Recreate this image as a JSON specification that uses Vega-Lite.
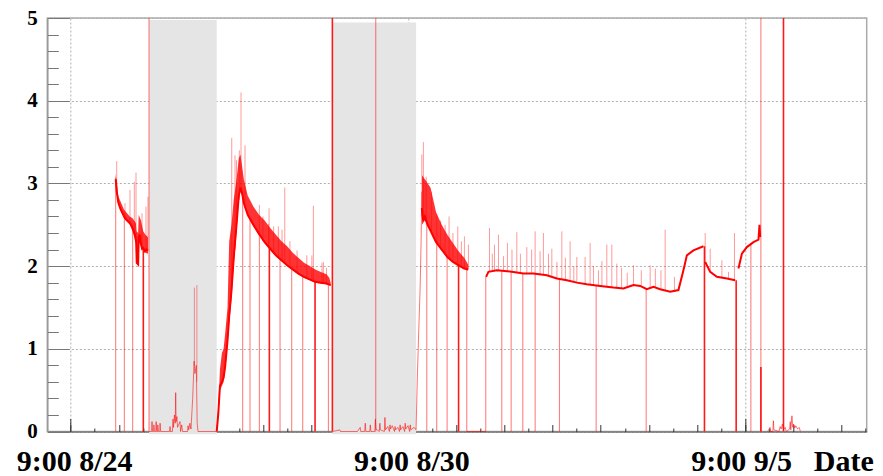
{
  "$schema": "https://vega.github.io/schema/vega-lite/v6.json",
  "width": 819.4,
  "height": 413.5,
  "autosize": "none",
  "padding": {"left": 47.3, "top": 18, "right": 16.3, "bottom": 44.5},
  "background": "white",
  "config": {
    "view": {"stroke": "#aaaaaa", "strokeWidth": 1.5},
    "axis": {"zindex": 1}
  },
  "resolve": {"axis": {"x": "independent", "y": "independent"}},
  "datasets": {
    "shade": [
      {"d0": 1.393, "d1": 2.598, "v0": -0.034, "v1": 4.976},
      {"d0": 4.655, "d1": 6.144, "v0": -0.034, "v1": 4.945}
    ],
    "band": [
      {"seg": "A", "d": 0.80, "lo": 3.0, "hi": 3.12},
      {"seg": "A", "d": 0.85, "lo": 2.74, "hi": 2.84},
      {"seg": "A", "d": 0.95, "lo": 2.58, "hi": 2.68},
      {"seg": "A", "d": 1.05, "lo": 2.50, "hi": 2.60},
      {"seg": "A", "d": 1.10, "lo": 2.42, "hi": 2.58},
      {"seg": "A", "d": 1.16, "lo": 2.28, "hi": 2.52},
      {"seg": "A", "d": 1.17, "lo": 2.04, "hi": 2.42},
      {"seg": "A", "d": 1.20, "lo": 2.02, "hi": 2.40},
      {"seg": "A", "d": 1.21, "lo": 2.30, "hi": 2.62},
      {"seg": "A", "d": 1.25, "lo": 2.24, "hi": 2.55},
      {"seg": "A", "d": 1.29, "lo": 2.18, "hi": 2.42},
      {"seg": "A", "d": 1.33, "lo": 2.16, "hi": 2.38},
      {"seg": "A", "d": 1.375, "lo": 2.15, "hi": 2.35},
      {"seg": "B", "d": 2.598, "lo": 0, "hi": 0.05},
      {"seg": "B", "d": 2.626, "lo": 0.2, "hi": 0.3},
      {"seg": "B", "d": 2.655, "lo": 0.5, "hi": 0.75},
      {"seg": "B", "d": 2.69, "lo": 0.55, "hi": 0.95},
      {"seg": "B", "d": 2.72, "lo": 0.6, "hi": 1.0},
      {"seg": "B", "d": 2.75, "lo": 0.75, "hi": 1.2},
      {"seg": "B", "d": 2.79, "lo": 1.05, "hi": 1.5},
      {"seg": "B", "d": 2.82, "lo": 1.3, "hi": 2.3},
      {"seg": "B", "d": 2.86, "lo": 1.6, "hi": 2.5},
      {"seg": "B", "d": 2.90, "lo": 2.0, "hi": 2.8},
      {"seg": "B", "d": 2.95, "lo": 2.4, "hi": 3.05},
      {"seg": "B", "d": 2.99, "lo": 2.8, "hi": 3.3},
      {"seg": "B", "d": 3.02, "lo": 2.9, "hi": 3.35},
      {"seg": "B", "d": 3.05, "lo": 2.85, "hi": 3.2},
      {"seg": "B", "d": 3.08, "lo": 2.75, "hi": 3.05},
      {"seg": "B", "d": 3.15, "lo": 2.6, "hi": 2.85},
      {"seg": "B", "d": 3.25, "lo": 2.48, "hi": 2.72},
      {"seg": "B", "d": 3.35, "lo": 2.38, "hi": 2.62},
      {"seg": "B", "d": 3.45, "lo": 2.28, "hi": 2.55},
      {"seg": "B", "d": 3.55, "lo": 2.2, "hi": 2.46},
      {"seg": "B", "d": 3.65, "lo": 2.12, "hi": 2.38},
      {"seg": "B", "d": 3.75, "lo": 2.06, "hi": 2.3},
      {"seg": "B", "d": 3.85, "lo": 2.0, "hi": 2.24},
      {"seg": "B", "d": 3.95, "lo": 1.95, "hi": 2.16},
      {"seg": "B", "d": 4.05, "lo": 1.9, "hi": 2.1},
      {"seg": "B", "d": 4.15, "lo": 1.86, "hi": 2.04},
      {"seg": "B", "d": 4.25, "lo": 1.83, "hi": 2.0},
      {"seg": "B", "d": 4.35, "lo": 1.8, "hi": 1.96},
      {"seg": "B", "d": 4.45, "lo": 1.79, "hi": 1.93},
      {"seg": "B", "d": 4.55, "lo": 1.78, "hi": 1.9},
      {"seg": "B", "d": 4.60, "lo": 1.77, "hi": 1.86},
      {"seg": "B", "d": 4.625, "lo": 1.76, "hi": 1.8},
      {"seg": "C", "d": 6.25, "lo": 2.5, "hi": 3.1},
      {"seg": "C", "d": 6.30, "lo": 2.55, "hi": 3.05},
      {"seg": "C", "d": 6.40, "lo": 2.42, "hi": 2.95},
      {"seg": "C", "d": 6.50, "lo": 2.28, "hi": 2.65},
      {"seg": "C", "d": 6.60, "lo": 2.2, "hi": 2.5},
      {"seg": "C", "d": 6.70, "lo": 2.1, "hi": 2.38},
      {"seg": "C", "d": 6.80, "lo": 2.05, "hi": 2.28},
      {"seg": "C", "d": 6.90, "lo": 2.0, "hi": 2.18},
      {"seg": "C", "d": 7.00, "lo": 1.97, "hi": 2.1},
      {"seg": "C", "d": 7.07, "lo": 1.95, "hi": 2.02}
    ],
    "trend": [
      {"seg": "A", "d": 0.801, "v": 3.05},
      {"seg": "A", "d": 0.819, "v": 2.90},
      {"seg": "A", "d": 0.847, "v": 2.77},
      {"seg": "A", "d": 0.88, "v": 2.70},
      {"seg": "A", "d": 0.907, "v": 2.66},
      {"seg": "A", "d": 0.95, "v": 2.60},
      {"seg": "A", "d": 0.99, "v": 2.56},
      {"seg": "A", "d": 1.055, "v": 2.52},
      {"seg": "A", "d": 1.09, "v": 2.48},
      {"seg": "A", "d": 1.114, "v": 2.44},
      {"seg": "A", "d": 1.15, "v": 2.36},
      {"seg": "A", "d": 1.165, "v": 2.28},
      {"seg": "A", "d": 1.175, "v": 2.04},
      {"seg": "A", "d": 1.20, "v": 2.02},
      {"seg": "A", "d": 1.21, "v": 2.34},
      {"seg": "A", "d": 1.23, "v": 2.38},
      {"seg": "A", "d": 1.25, "v": 2.27},
      {"seg": "A", "d": 1.27, "v": 2.21},
      {"seg": "A", "d": 1.29, "v": 2.22},
      {"seg": "A", "d": 1.32, "v": 2.18},
      {"seg": "A", "d": 1.35, "v": 2.20},
      {"seg": "A", "d": 1.375, "v": 2.19},
      {"seg": "B", "d": 2.598, "v": 0.0},
      {"seg": "B", "d": 2.626, "v": 0.22},
      {"seg": "B", "d": 2.655, "v": 0.55},
      {"seg": "B", "d": 2.69, "v": 0.6},
      {"seg": "B", "d": 2.72, "v": 0.65},
      {"seg": "B", "d": 2.75, "v": 0.8},
      {"seg": "B", "d": 2.79, "v": 1.1},
      {"seg": "B", "d": 2.82, "v": 1.4},
      {"seg": "B", "d": 2.86, "v": 1.7},
      {"seg": "B", "d": 2.90, "v": 2.1},
      {"seg": "B", "d": 2.95, "v": 2.5},
      {"seg": "B", "d": 2.99, "v": 2.85},
      {"seg": "B", "d": 3.02, "v": 2.95},
      {"seg": "B", "d": 3.05, "v": 2.88},
      {"seg": "B", "d": 3.08, "v": 2.76},
      {"seg": "B", "d": 3.15, "v": 2.62},
      {"seg": "B", "d": 3.25, "v": 2.50},
      {"seg": "B", "d": 3.35, "v": 2.39},
      {"seg": "B", "d": 3.45, "v": 2.29},
      {"seg": "B", "d": 3.55, "v": 2.21},
      {"seg": "B", "d": 3.65, "v": 2.13},
      {"seg": "B", "d": 3.75, "v": 2.07},
      {"seg": "B", "d": 3.85, "v": 2.01},
      {"seg": "B", "d": 3.95, "v": 1.96},
      {"seg": "B", "d": 4.05, "v": 1.91},
      {"seg": "B", "d": 4.15, "v": 1.87},
      {"seg": "B", "d": 4.25, "v": 1.84},
      {"seg": "B", "d": 4.35, "v": 1.81},
      {"seg": "B", "d": 4.45, "v": 1.80},
      {"seg": "B", "d": 4.55, "v": 1.79},
      {"seg": "B", "d": 4.625, "v": 1.77},
      {"seg": "C", "d": 6.246, "v": 2.7},
      {"seg": "C", "d": 6.27, "v": 2.55},
      {"seg": "C", "d": 6.30, "v": 2.6},
      {"seg": "C", "d": 6.35, "v": 2.5},
      {"seg": "C", "d": 6.40, "v": 2.43},
      {"seg": "C", "d": 6.50, "v": 2.29},
      {"seg": "C", "d": 6.60, "v": 2.20},
      {"seg": "C", "d": 6.70, "v": 2.11},
      {"seg": "C", "d": 6.80, "v": 2.05},
      {"seg": "C", "d": 6.90, "v": 2.01},
      {"seg": "C", "d": 7.00, "v": 1.97},
      {"seg": "C", "d": 7.07, "v": 1.96},
      {"seg": "D1", "d": 7.390, "v": 1.87},
      {"seg": "D1", "d": 7.431, "v": 1.93},
      {"seg": "D1", "d": 7.580, "v": 1.95},
      {"seg": "D1", "d": 7.875, "v": 1.93},
      {"seg": "D1", "d": 8.053, "v": 1.91},
      {"seg": "D1", "d": 8.231, "v": 1.91},
      {"seg": "D1", "d": 8.470, "v": 1.89},
      {"seg": "D1", "d": 8.648, "v": 1.85},
      {"seg": "D1", "d": 8.826, "v": 1.83},
      {"seg": "D1", "d": 9.004, "v": 1.80},
      {"seg": "D1", "d": 9.181, "v": 1.78},
      {"seg": "D1", "d": 9.418, "v": 1.76},
      {"seg": "D1", "d": 9.655, "v": 1.74},
      {"seg": "D1", "d": 9.833, "v": 1.73},
      {"seg": "D1", "d": 10.011, "v": 1.77},
      {"seg": "D1", "d": 10.130, "v": 1.76},
      {"seg": "D1", "d": 10.249, "v": 1.72},
      {"seg": "D1", "d": 10.367, "v": 1.75},
      {"seg": "D1", "d": 10.486, "v": 1.72},
      {"seg": "D1", "d": 10.664, "v": 1.69},
      {"seg": "D1", "d": 10.811, "v": 1.71},
      {"seg": "D1", "d": 10.900, "v": 1.95},
      {"seg": "D1", "d": 10.961, "v": 2.13},
      {"seg": "D1", "d": 11.078, "v": 2.19},
      {"seg": "D1", "d": 11.256, "v": 2.24},
      {"seg": "D2", "d": 11.287, "v": 2.05},
      {"seg": "D2", "d": 11.376, "v": 1.93},
      {"seg": "D2", "d": 11.495, "v": 1.87},
      {"seg": "D2", "d": 11.673, "v": 1.85},
      {"seg": "D2", "d": 11.820, "v": 1.83},
      {"seg": "D3", "d": 11.879, "v": 1.97},
      {"seg": "D3", "d": 11.940, "v": 2.15},
      {"seg": "D3", "d": 12.028, "v": 2.23},
      {"seg": "D3", "d": 12.146, "v": 2.29},
      {"seg": "D3", "d": 12.235, "v": 2.32},
      {"seg": "D3", "d": 12.253, "v": 2.50},
      {"seg": "D3", "d": 12.265, "v": 2.35}
    ],
    "faint": [
      {"seg": "Z1", "d": 1.393, "v": 0},
      {"seg": "Z1", "d": 1.44, "v": 0},
      {"seg": "Z1", "d": 1.447, "v": 0.12},
      {"seg": "Z1", "d": 1.455, "v": 0},
      {"seg": "Z1", "d": 1.475, "v": 0},
      {"seg": "Z1", "d": 1.48, "v": 0.08},
      {"seg": "Z1", "d": 1.49, "v": 0},
      {"seg": "Z1", "d": 1.515, "v": 0},
      {"seg": "Z1", "d": 1.52, "v": 0.12},
      {"seg": "Z1", "d": 1.53, "v": 0},
      {"seg": "Z1", "d": 1.545, "v": 0},
      {"seg": "Z1", "d": 1.55, "v": 0.08},
      {"seg": "Z1", "d": 1.56, "v": 0},
      {"seg": "Z1", "d": 1.585, "v": 0},
      {"seg": "Z1", "d": 1.59, "v": 0.1},
      {"seg": "Z1", "d": 1.60, "v": 0},
      {"seg": "Z1", "d": 1.76, "v": 0},
      {"seg": "Z1", "d": 1.767, "v": 0.06},
      {"seg": "Z1", "d": 1.775, "v": 0},
      {"seg": "Z1", "d": 1.81, "v": 0},
      {"seg": "Z1", "d": 1.82, "v": 0.15},
      {"seg": "Z1", "d": 1.83, "v": 0.05},
      {"seg": "Z1", "d": 1.845, "v": 0.2},
      {"seg": "Z1", "d": 1.86, "v": 0.1},
      {"seg": "Z1", "d": 1.868, "v": 0.47},
      {"seg": "Z1", "d": 1.875, "v": 0.12},
      {"seg": "Z1", "d": 1.89, "v": 0.18},
      {"seg": "Z1", "d": 1.90, "v": 0.05},
      {"seg": "Z1", "d": 1.945, "v": 0.12},
      {"seg": "Z1", "d": 1.955, "v": 0},
      {"seg": "Z1", "d": 1.975, "v": 0.08},
      {"seg": "Z1", "d": 1.99, "v": 0},
      {"seg": "Z1", "d": 2.08, "v": 0},
      {"seg": "Z1", "d": 2.087, "v": 0.07},
      {"seg": "Z1", "d": 2.10, "v": 0.02},
      {"seg": "Z1", "d": 2.12, "v": 0.1},
      {"seg": "Z1", "d": 2.14, "v": 0.03},
      {"seg": "Z1", "d": 2.17, "v": 0.4},
      {"seg": "Z1", "d": 2.195, "v": 0.85},
      {"seg": "Z1", "d": 2.21, "v": 0.7},
      {"seg": "Z1", "d": 2.235, "v": 0.8},
      {"seg": "Z1", "d": 2.25, "v": 0.1},
      {"seg": "Z1", "d": 2.265, "v": 0},
      {"seg": "Z1", "d": 2.598, "v": 0},
      {"seg": "Z2", "d": 4.66, "v": 0},
      {"seg": "Z2", "d": 4.79, "v": 0.02},
      {"seg": "Z2", "d": 4.80, "v": 0},
      {"seg": "Z2", "d": 5.10, "v": 0},
      {"seg": "Z2", "d": 5.15, "v": 0.05},
      {"seg": "Z2", "d": 5.16, "v": 0},
      {"seg": "Z2", "d": 5.23, "v": 0},
      {"seg": "Z2", "d": 5.24, "v": 0.1},
      {"seg": "Z2", "d": 5.25, "v": 0},
      {"seg": "Z2", "d": 5.32, "v": 0},
      {"seg": "Z2", "d": 5.33, "v": 0.08},
      {"seg": "Z2", "d": 5.34, "v": 0},
      {"seg": "Z2", "d": 5.41, "v": 0},
      {"seg": "Z2", "d": 5.42, "v": 0.15},
      {"seg": "Z2", "d": 5.43, "v": 0.03},
      {"seg": "Z2", "d": 5.49, "v": 0},
      {"seg": "Z2", "d": 5.50, "v": 0.1},
      {"seg": "Z2", "d": 5.51, "v": 0.02},
      {"seg": "Z2", "d": 5.58, "v": 0},
      {"seg": "Z2", "d": 5.59, "v": 0.17},
      {"seg": "Z2", "d": 5.60, "v": 0.02},
      {"seg": "Z2", "d": 5.64, "v": 0.06},
      {"seg": "Z2", "d": 5.67, "v": 0},
      {"seg": "Z2", "d": 5.68, "v": 0.08},
      {"seg": "Z2", "d": 5.69, "v": 0.03},
      {"seg": "Z2", "d": 5.72, "v": 0.07},
      {"seg": "Z2", "d": 5.76, "v": 0},
      {"seg": "Z2", "d": 5.77, "v": 0.06},
      {"seg": "Z2", "d": 5.78, "v": 0.02},
      {"seg": "Z2", "d": 5.82, "v": 0.05},
      {"seg": "Z2", "d": 5.85, "v": 0},
      {"seg": "Z2", "d": 5.86, "v": 0.08},
      {"seg": "Z2", "d": 5.87, "v": 0.02},
      {"seg": "Z2", "d": 5.91, "v": 0.06},
      {"seg": "Z2", "d": 5.94, "v": 0},
      {"seg": "Z2", "d": 5.95, "v": 0.1},
      {"seg": "Z2", "d": 5.96, "v": 0.03},
      {"seg": "Z2", "d": 6.00, "v": 0.07},
      {"seg": "Z2", "d": 6.03, "v": 0},
      {"seg": "Z2", "d": 6.04, "v": 0.08},
      {"seg": "Z2", "d": 6.05, "v": 0.02},
      {"seg": "Z2", "d": 6.11, "v": 0.05},
      {"seg": "Z2", "d": 6.144, "v": 0.02},
      {"seg": "Z2", "d": 6.167, "v": 0.66},
      {"seg": "Z2", "d": 6.192, "v": 1.23},
      {"seg": "Z2", "d": 6.215, "v": 1.71},
      {"seg": "Z2", "d": 6.233, "v": 2.28},
      {"seg": "Z2", "d": 6.246, "v": 2.9},
      {"seg": "Z3", "d": 7.046, "v": 0},
      {"seg": "Z3", "d": 7.384, "v": 0},
      {"seg": "Z4", "d": 12.40, "v": 0},
      {"seg": "Z4", "d": 12.44, "v": 0.05},
      {"seg": "Z4", "d": 12.45, "v": 0},
      {"seg": "Z4", "d": 12.49, "v": 0},
      {"seg": "Z4", "d": 12.50, "v": 0.13},
      {"seg": "Z4", "d": 12.51, "v": 0.02},
      {"seg": "Z4", "d": 12.60, "v": 0},
      {"seg": "Z4", "d": 12.62, "v": 0.06},
      {"seg": "Z4", "d": 12.64, "v": 0.03},
      {"seg": "Z4", "d": 12.66, "v": 0.09},
      {"seg": "Z4", "d": 12.68, "v": 0.02},
      {"seg": "Z4", "d": 12.71, "v": 0.05},
      {"seg": "Z4", "d": 12.73, "v": 0},
      {"seg": "Z4", "d": 12.79, "v": 0.03},
      {"seg": "Z4", "d": 12.80, "v": 0.12},
      {"seg": "Z4", "d": 12.81, "v": 0.02},
      {"seg": "Z4", "d": 12.83, "v": 0.19},
      {"seg": "Z4", "d": 12.845, "v": 0.05},
      {"seg": "Z4", "d": 12.86, "v": 0.09},
      {"seg": "Z4", "d": 12.88, "v": 0.04},
      {"seg": "Z4", "d": 12.90, "v": 0.07},
      {"seg": "Z4", "d": 12.93, "v": 0.03},
      {"seg": "Z4", "d": 12.96, "v": 0.05},
      {"seg": "Z4", "d": 12.98, "v": 0}
    ],
    "spikes": [
      {"d": 0.819, "lo": 2.9, "hi": 3.27},
      {"d": 0.966, "lo": 2.58, "hi": 2.76},
      {"d": 1.055, "lo": 2.52, "hi": 2.92},
      {"d": 1.132, "lo": 2.4, "hi": 3.02},
      {"d": 1.162, "lo": 2.3, "hi": 3.13},
      {"d": 1.269, "lo": 2.2, "hi": 2.64},
      {"d": 1.34, "lo": 2.18, "hi": 2.72},
      {"d": 1.375, "lo": 2.18, "hi": 2.84},
      {"d": 2.20, "lo": 0.8, "hi": 1.74},
      {"d": 2.245, "lo": 0.6, "hi": 1.77},
      {"d": 2.865, "lo": 1.8, "hi": 3.55},
      {"d": 2.923, "lo": 2.2, "hi": 3.34},
      {"d": 2.95, "lo": 2.4, "hi": 3.28},
      {"d": 3.0, "lo": 2.8, "hi": 3.40},
      {"d": 3.030, "lo": 2.9, "hi": 4.1},
      {"d": 3.101, "lo": 2.7, "hi": 3.46},
      {"d": 3.356, "lo": 2.38, "hi": 2.74},
      {"d": 3.42, "lo": 2.3, "hi": 2.6},
      {"d": 3.52, "lo": 2.22, "hi": 2.51},
      {"d": 3.529, "lo": 2.22, "hi": 2.70},
      {"d": 3.61, "lo": 2.15, "hi": 2.48},
      {"d": 3.694, "lo": 2.1, "hi": 2.48},
      {"d": 3.76, "lo": 2.06, "hi": 2.44},
      {"d": 3.808, "lo": 2.03, "hi": 2.95},
      {"d": 3.9, "lo": 1.98, "hi": 2.3},
      {"d": 4.027, "lo": 1.92, "hi": 2.19},
      {"d": 4.2, "lo": 1.85, "hi": 2.13},
      {"d": 4.29, "lo": 1.83, "hi": 2.13},
      {"d": 4.317, "lo": 1.81, "hi": 2.73},
      {"d": 4.47, "lo": 1.79, "hi": 2.04},
      {"d": 4.495, "lo": 1.79, "hi": 2.05},
      {"d": 4.55, "lo": 1.78, "hi": 1.98},
      {"d": 6.246, "lo": 2.6, "hi": 3.35},
      {"d": 6.274, "lo": 2.6, "hi": 3.5},
      {"d": 6.324, "lo": 2.5, "hi": 3.08},
      {"d": 6.42, "lo": 2.4, "hi": 2.9},
      {"d": 6.512, "lo": 2.28, "hi": 2.62},
      {"d": 6.58, "lo": 2.2, "hi": 2.55},
      {"d": 6.66, "lo": 2.15, "hi": 2.5},
      {"d": 6.731, "lo": 2.1, "hi": 2.6},
      {"d": 6.8, "lo": 2.05, "hi": 2.4},
      {"d": 6.886, "lo": 2.01, "hi": 2.48},
      {"d": 6.95, "lo": 1.99, "hi": 2.3},
      {"d": 7.004, "lo": 1.97, "hi": 2.36},
      {"d": 7.075, "lo": 1.96, "hi": 2.26},
      {"d": 7.45, "lo": 1.94, "hi": 2.46},
      {"d": 7.5, "lo": 1.95, "hi": 2.15},
      {"d": 7.539, "lo": 1.95, "hi": 2.26},
      {"d": 7.61, "lo": 1.95, "hi": 2.38},
      {"d": 7.7, "lo": 1.94, "hi": 2.12},
      {"d": 7.769, "lo": 1.94, "hi": 2.28},
      {"d": 7.85, "lo": 1.93, "hi": 2.2},
      {"d": 7.936, "lo": 1.93, "hi": 2.41},
      {"d": 8.0, "lo": 1.92, "hi": 2.15},
      {"d": 8.114, "lo": 1.91, "hi": 2.23},
      {"d": 8.2, "lo": 1.91, "hi": 2.2},
      {"d": 8.262, "lo": 1.91, "hi": 2.42},
      {"d": 8.35, "lo": 1.9, "hi": 2.18},
      {"d": 8.409, "lo": 1.90, "hi": 2.40},
      {"d": 8.5, "lo": 1.89, "hi": 2.15},
      {"d": 8.559, "lo": 1.87, "hi": 2.21},
      {"d": 8.65, "lo": 1.85, "hi": 2.05},
      {"d": 8.737, "lo": 1.84, "hi": 2.42},
      {"d": 8.8, "lo": 1.83, "hi": 2.1},
      {"d": 8.884, "lo": 1.82, "hi": 2.30},
      {"d": 8.95, "lo": 1.81, "hi": 2.0},
      {"d": 9.004, "lo": 1.80, "hi": 2.11},
      {"d": 9.151, "lo": 1.78, "hi": 2.11},
      {"d": 9.240, "lo": 1.78, "hi": 2.28},
      {"d": 9.3, "lo": 1.77, "hi": 2.0},
      {"d": 9.388, "lo": 1.76, "hi": 1.95},
      {"d": 9.45, "lo": 1.76, "hi": 2.06},
      {"d": 9.537, "lo": 1.75, "hi": 2.26},
      {"d": 9.626, "lo": 1.74, "hi": 2.26},
      {"d": 9.715, "lo": 1.74, "hi": 2.03},
      {"d": 9.8, "lo": 1.73, "hi": 1.98},
      {"d": 9.9, "lo": 1.74, "hi": 1.92},
      {"d": 10.011, "lo": 1.77, "hi": 2.01},
      {"d": 10.15, "lo": 1.76, "hi": 1.95},
      {"d": 10.308, "lo": 1.74, "hi": 2.01},
      {"d": 10.4, "lo": 1.74, "hi": 1.97},
      {"d": 10.5, "lo": 1.72, "hi": 1.95},
      {"d": 10.575, "lo": 1.70, "hi": 2.44},
      {"d": 10.74, "lo": 1.70, "hi": 1.87},
      {"d": 11.287, "lo": 2.05, "hi": 2.40},
      {"d": 11.376, "lo": 1.93, "hi": 2.21},
      {"d": 11.584, "lo": 1.86, "hi": 2.07},
      {"d": 11.702, "lo": 1.85, "hi": 1.93},
      {"d": 11.808, "lo": 1.83, "hi": 2.40}
    ],
    "drops": [
      {"d": 0.801, "top": 3.07, "base": 0},
      {"d": 0.954, "top": 2.6, "base": 0},
      {"d": 1.103, "top": 2.46, "base": 0},
      {"d": 1.393, "top": 5, "base": 0},
      {"d": 3.060, "top": 2.85, "base": 0},
      {"d": 3.190, "top": 2.56, "base": 0},
      {"d": 3.356, "top": 2.4, "base": 0},
      {"d": 3.724, "top": 2.08, "base": 0},
      {"d": 3.932, "top": 1.96, "base": 0},
      {"d": 4.128, "top": 1.88, "base": 0},
      {"d": 4.584, "top": 1.78, "base": 0},
      {"d": 5.427, "top": 5, "base": 0},
      {"d": 6.335, "top": 2.5, "base": 0},
      {"d": 6.512, "top": 2.3, "base": 0},
      {"d": 6.696, "top": 2.12, "base": 0},
      {"d": 7.046, "top": 1.97, "base": 0},
      {"d": 7.384, "top": 1.87, "base": 0},
      {"d": 7.669, "top": 1.95, "base": 0},
      {"d": 7.835, "top": 1.94, "base": 0},
      {"d": 8.043, "top": 1.91, "base": 0},
      {"d": 8.262, "top": 1.91, "base": 0},
      {"d": 8.694, "top": 1.85, "base": 0},
      {"d": 9.347, "top": 1.77, "base": 0},
      {"d": 10.237, "top": 1.73, "base": 0},
      {"d": 12.1, "top": 2.28, "base": 0},
      {"d": 12.278, "top": 5, "base": 0}
    ],
    "dropsBold": [
      {"d": 1.292, "top": 2.2, "base": 0},
      {"d": 3.534, "top": 2.22, "base": 0},
      {"d": 4.347, "top": 1.82, "base": 0},
      {"d": 4.655, "top": 5, "base": 0},
      {"d": 6.9, "top": 2.02, "base": 0},
      {"d": 11.274, "top": 2.24, "base": 0},
      {"d": 11.838, "top": 1.83, "base": 0},
      {"d": 12.278, "top": 0.78, "base": 0},
      {"d": 12.68, "top": 5, "base": 0}
    ]
  },
  "layer": [
    {
      "data": {"name": "shade"},
      "mark": {"type": "rect", "color": "#e5e5e5"},
      "encoding": {
        "x": {
          "field": "d0", "type": "quantitative",
          "scale": {"domain": [-0.416, 14.16], "nice": false, "zero": false},
          "axis": {
            "orient": "bottom", "values": [0, 6, 12],
            "tickSize": -13, "tickColor": "#333333", "tickWidth": 1,
            "domainColor": "#777777", "domainWidth": 1.5,
            "grid": true, "gridDash": [2, 2], "gridColor": "#b0b0b0", "gridWidth": 1,
            "labelExpr": "datum.value == 0 ? '9:00 8/24' : datum.value == 6 ? '9:00 8/30' : '9:00 9/5'",
            "labelAlign": "left", "labelOffset": -54.5, "labelBaseline": "alphabetic",
            "labelPadding": 51.5, "labelFont": "Liberation Serif", "labelFontWeight": "bold",
            "labelFontSize": 30, "labelColor": "#000000", "labelFlush": false, "labelOverlap": false,
            "title": "Date", "titleX": 766, "titleY": 38.5, "titleAlign": "left",
            "titleBaseline": "alphabetic", "titleFont": "Liberation Serif",
            "titleFontWeight": "bold", "titleFontSize": 30, "titleColor": "#000000"
          }
        },
        "x2": {"field": "d1"},
        "y": {
          "field": "v0", "type": "quantitative",
          "scale": {"domain": [0, 5], "nice": false, "zero": false},
          "axis": {
            "orient": "left", "values": [0, 1, 2, 3, 4, 5], "format": "d",
            "tickSize": -22, "tickColor": "#777777", "tickWidth": 1,
            "domainColor": "#999999", "domainWidth": 1.5,
            "grid": true, "gridDash": [2, 2], "gridColor": "#b0b0b0", "gridWidth": 1,
            "labelPadding": 32, "labelFont": "Liberation Serif", "labelFontWeight": "bold",
            "labelFontSize": 21, "labelColor": "#000000", "labelAlign": "right",
            "labelBaseline": "middle", "labelFlush": false, "labelOverlap": false,
            "title": null
          }
        },
        "y2": {"field": "v1"}
      }
    },
    {
      "data": {"name": "band"},
      "mark": {"type": "area", "color": "#ff0000", "opacity": 0.8},
      "encoding": {
        "x": {
          "field": "d", "type": "quantitative",
          "scale": {"domain": [-0.416, 14.16], "nice": false, "zero": false},
          "axis": {
            "orient": "bottom",
            "values": [0, 0.857143, 1.714286, 2.571429, 3.428571, 4.285714, 5.142857, 6, 6.857143, 7.714286, 8.571429, 9.428571, 10.285714, 11.142857, 12, 12.857143, 13.714286],
            "tickSize": -7, "tickColor": "#333333", "tickWidth": 1,
            "labels": false, "grid": false, "domain": false, "title": null
          }
        },
        "y": {
          "field": "lo", "type": "quantitative",
          "scale": {"domain": [0, 5], "nice": false, "zero": false},
          "axis": {
            "orient": "left",
            "values": [0.2, 0.4, 0.6, 0.8, 1.2, 1.4, 1.6, 1.8, 2.2, 2.4, 2.6, 2.8, 3.2, 3.4, 3.6, 3.8, 4.2, 4.4, 4.6, 4.8],
            "tickSize": -11, "tickColor": "#777777", "tickWidth": 1,
            "labels": false, "grid": false, "domain": false, "title": null
          }
        },
        "y2": {"field": "hi"},
        "detail": {"field": "seg"}
      }
    },
    {
      "data": {"name": "spikes"},
      "mark": {"type": "rule", "color": "#ff0000", "opacity": 0.4, "strokeWidth": 1},
      "encoding": {
        "x": {
          "field": "d", "type": "quantitative",
          "scale": {"domain": [-0.416, 14.16], "nice": false, "zero": false},
          "axis": {
            "orient": "bottom",
            "values": [0.428571, 1.285714, 2.142857, 3, 3.857143, 4.714286, 5.571429, 6.428571, 7.285714, 8.142857, 9, 9.857143, 10.714286, 11.571429, 12.428571, 13.285714, 14.142857],
            "tickSize": -3.5, "tickColor": "#333333", "tickWidth": 1,
            "labels": false, "grid": false, "domain": false, "title": null
          }
        },
        "y": {
          "field": "lo", "type": "quantitative",
          "scale": {"domain": [0, 5], "nice": false, "zero": false},
          "axis": null
        },
        "y2": {"field": "hi"}
      }
    },
    {
      "data": {"name": "faint"},
      "mark": {"type": "line", "color": "#ff0000", "opacity": 0.55, "strokeWidth": 1},
      "encoding": {
        "x": {"field": "d", "type": "quantitative", "scale": {"domain": [-0.416, 14.16], "nice": false, "zero": false}, "axis": null},
        "y": {"field": "v", "type": "quantitative", "scale": {"domain": [0, 5], "nice": false, "zero": false}, "axis": null},
        "detail": {"field": "seg"}
      }
    },
    {
      "data": {"name": "trend"},
      "mark": {"type": "line", "color": "#ff0000", "strokeWidth": 2},
      "encoding": {
        "x": {"field": "d", "type": "quantitative", "scale": {"domain": [-0.416, 14.16], "nice": false, "zero": false}, "axis": null},
        "y": {"field": "v", "type": "quantitative", "scale": {"domain": [0, 5], "nice": false, "zero": false}, "axis": null},
        "detail": {"field": "seg"}
      }
    },
    {
      "data": {"name": "drops"},
      "mark": {"type": "rule", "color": "#ff0000", "opacity": 0.55, "strokeWidth": 1},
      "encoding": {
        "x": {"field": "d", "type": "quantitative", "scale": {"domain": [-0.416, 14.16], "nice": false, "zero": false}, "axis": null},
        "y": {"field": "base", "type": "quantitative", "scale": {"domain": [0, 5], "nice": false, "zero": false}, "axis": null},
        "y2": {"field": "top"}
      }
    },
    {
      "data": {"name": "dropsBold"},
      "mark": {"type": "rule", "color": "#ff0000", "opacity": 0.9, "strokeWidth": 1.6},
      "encoding": {
        "x": {"field": "d", "type": "quantitative", "scale": {"domain": [-0.416, 14.16], "nice": false, "zero": false}, "axis": null},
        "y": {"field": "base", "type": "quantitative", "scale": {"domain": [0, 5], "nice": false, "zero": false}, "axis": null},
        "y2": {"field": "top"}
      }
    }
  ]
}
